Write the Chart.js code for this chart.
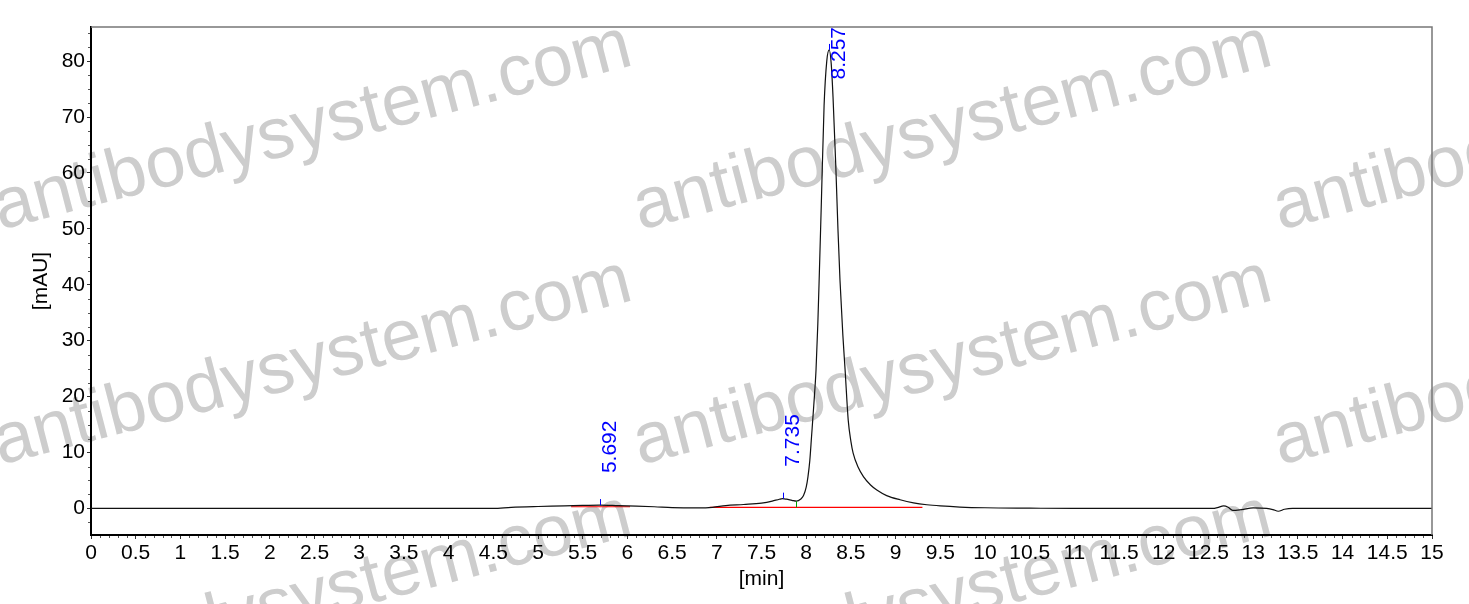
<!DOCTYPE html>
<html>
<head>
<meta charset="utf-8">
<script src="https://cdn.jsdelivr.net/npm/chart.js@4.4.1/dist/chart.umd.min.js"></script>
<style>
  body { margin: 0; background: #fff; }
  #wrap { width: 1469px; height: 604px; }
</style>
</head>
<body>
<div id="wrap"><canvas id="chrom" width="1469" height="604"></canvas></div>
<script>
// retention time (min) and signal (mAU)
var times = [0, 4.5, 4.7, 5.0, 5.3, 5.5, 5.692, 5.9, 6.0, 6.3, 6.5, 6.8, 6.95, 7.1, 7.3, 7.5, 7.62, 7.7, 7.735, 7.78, 7.84, 7.89,
  7.94, 7.97, 8.0, 8.02, 8.04, 8.06, 8.085, 8.11, 8.13, 8.147, 8.17, 8.2, 8.23, 8.257, 8.28, 8.3, 8.33, 8.355, 8.378,
  8.41, 8.435, 8.47, 8.5, 8.525, 8.58, 8.64, 8.72, 8.79, 8.9, 9.05, 9.2, 9.35, 9.5, 9.72, 10.0, 10.5, 11.0,
  12.55, 12.6, 12.67, 12.72, 12.77, 12.87, 13.0, 13.15, 13.22, 13.28, 13.35, 13.44, 15.0];
var signal = [0, 0, 0.2, 0.35, 0.45, 0.55, 0.6, 0.5, 0.45, 0.3, 0.15, 0.1, 0.2, 0.5, 0.7, 0.95, 1.3, 1.65, 1.75, 1.65, 1.45, 1.3,
  1.7, 2.3, 3.8, 5.7, 8.5, 12.9, 18.5, 24.8, 33, 42, 55, 72, 80, 82, 79.5, 73.6, 61.7, 50, 40.8,
  31, 24.8, 15.8, 12, 9.9, 7.4, 5.7, 4.2, 3.3, 2.3, 1.55, 1.0, 0.66, 0.45, 0.25, 0.12, 0.05, 0,
  0, 0.15, 0.45, 0.2, -0.35, -0.2, 0.1, 0, -0.2, -0.5, -0.15, 0, 0];

// integrated peaks
var peakTimes = [5.692, 7.735, 8.257];
var peakHeights = [0.6, 1.75, 82];
var peakLabels = ["5.692", "7.735", "8.257"];

// integration baselines
var baseStart = [5.37, 6.92];
var baseEnd = [6.03, 9.3];
var baseLevel = [0.3, 0.2];
var splitTimes = [7.89];
var splitHeights = [1.3];

var xTicks = [];
for (var i = 0; i <= 30; i++) xTicks.push(i * 0.5);
var yTicks = [0, 10, 20, 30, 40, 50, 60, 70, 80];

var FONT = "'Liberation Sans', Arial, sans-serif";

var trace = times.map(function (t, i) { return { x: t, y: signal[i] }; });
var baseSets = baseStart.map(function (s, i) {
  return {
    data: [{ x: s, y: baseLevel[i] }, { x: baseEnd[i], y: baseLevel[i] }],
    borderColor: "#ff0000", borderWidth: 1.2, pointRadius: 0, order: 2
  };
});

var watermark = {
  id: "watermark",
  beforeDraw: function (chart) {
    var ctx = chart.ctx;
    ctx.save();
    ctx.fillStyle = "#fff";
    ctx.fillRect(0, 0, chart.width, chart.height);
    ctx.font = "72px " + FONT;
    ctx.fillStyle = "#cdcdcd";
    ctx.textBaseline = "alphabetic";
    for (var r = 0; r < 3; r++) {
      for (var c = 0; c < 3; c++) {
        ctx.save();
        ctx.translate(c * 640, 230 + r * 235);
        ctx.rotate(-14.6 * Math.PI / 180);
        ctx.fillText("antibodysystem.com", 0, 0);
        ctx.restore();
      }
    }
    ctx.restore();
  }
};

var marks = {
  id: "marks",
  afterDraw: function (chart) {
    var ctx = chart.ctx, xs = chart.scales.x, ys = chart.scales.y, a = chart.chartArea;
    ctx.save();
    // frame top/right
    ctx.strokeStyle = "#777";
    ctx.lineWidth = 1.5;
    ctx.beginPath();
    ctx.moveTo(a.left, a.top); ctx.lineTo(a.right, a.top); ctx.lineTo(a.right, a.bottom);
    ctx.stroke();
    // minor ticks
    ctx.strokeStyle = "#555";
    ctx.lineWidth = 1;
    ctx.beginPath();
    for (var k = 0; k <= 150; k++) {
      if (k % 5 === 0) continue;
      var px = Math.round(xs.getPixelForValue(k / 10)) + 0.5;
      ctx.moveTo(px, a.bottom + 1); ctx.lineTo(px, a.bottom + 3);
    }
    for (var v = -2.5; v <= 85; v += 2.5) {
      if (v % 10 === 0) continue;
      var py = Math.round(ys.getPixelForValue(v)) + 0.5;
      ctx.moveTo(a.left - 3, py); ctx.lineTo(a.left - 1, py);
    }
    ctx.stroke();
    // split markers
    ctx.strokeStyle = "#00a000";
    ctx.beginPath();
    splitTimes.forEach(function (t, i) {
      var px = Math.round(xs.getPixelForValue(t)) + 0.5;
      ctx.moveTo(px, ys.getPixelForValue(0.2)); ctx.lineTo(px, ys.getPixelForValue(splitHeights[i]));
    });
    ctx.stroke();
    // peak ticks and labels
    ctx.strokeStyle = "#0000ff";
    ctx.fillStyle = "#0000ff";
    ctx.font = "21px " + FONT;
    peakTimes.forEach(function (t, i) {
      var px = xs.getPixelForValue(t), py = ys.getPixelForValue(peakHeights[i]);
      ctx.beginPath();
      ctx.moveTo(Math.round(px) + 0.5, py - 6); ctx.lineTo(Math.round(px) + 0.5, py);
      ctx.stroke();
      var w = ctx.measureText(peakLabels[i]).width;
      var start = Math.max(py - 32, a.top + w);
      ctx.save();
      ctx.translate(px, start);
      ctx.rotate(-Math.PI / 2);
      ctx.textAlign = "left";
      ctx.textBaseline = "alphabetic";
      ctx.fillText(peakLabels[i], 0, 16);
      ctx.restore();
    });
    ctx.restore();
  }
};

new Chart("chrom", {
  type: "line",
  data: {
    datasets: [{
      data: trace,
      borderColor: "#111",
      borderWidth: 1.2,
      pointRadius: 0,
      cubicInterpolationMode: "monotone",
      order: 1
    }].concat(baseSets)
  },
  options: {
    responsive: false,
    animation: false,
    events: [],
    layout: { padding: { top: 27, right: 37, left: 0, bottom: 0 } },
    plugins: { legend: { display: false }, tooltip: { enabled: false } },
    scales: {
      x: {
        type: "linear",
        min: 0, max: 15,
        afterBuildTicks: function (s) { s.ticks = xTicks.map(function (v) { return { value: v }; }); },
        afterFit: function (s) { s.height = 69; },
        grid: { drawOnChartArea: false, tickLength: 4, color: "#333" },
        border: { color: "#000", width: 2 },
        ticks: {
          color: "#000", font: { family: FONT, size: 21 }, padding: 2, maxRotation: 0, autoSkip: false,
          callback: function (v) { return String(v); }
        },
        title: { display: true, text: "[min]", color: "#000", font: { family: FONT, size: 21 }, padding: { top: 0, bottom: 12 } }
      },
      y: {
        min: -4.75, max: 86.1,
        afterBuildTicks: function (s) { s.ticks = yTicks.map(function (v) { return { value: v }; }); },
        afterFit: function (s) { s.width = 91; },
        grid: { drawOnChartArea: false, tickLength: 4, color: "#333" },
        border: { color: "#000", width: 2 },
        ticks: { color: "#000", font: { family: FONT, size: 21 }, padding: 2 },
        title: { display: true, text: "[mAU]", color: "#000", font: { family: FONT, size: 21 }, padding: { top: 29, bottom: 0 } }
      }
    }
  },
  plugins: [watermark, marks]
});
</script>
</body>
</html>
